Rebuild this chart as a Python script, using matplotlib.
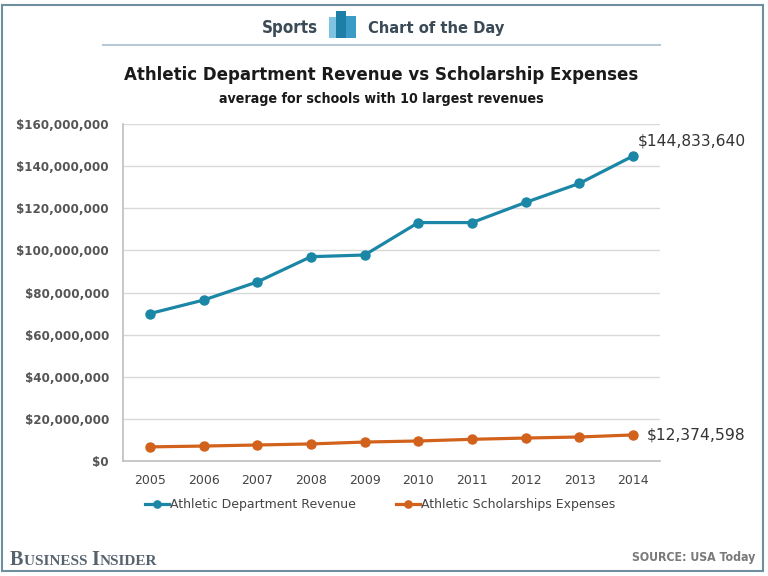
import matplotlib
matplotlib.use("Agg")
import matplotlib.pyplot as plt
from matplotlib.patches import Rectangle
from matplotlib.lines import Line2D
from matplotlib.ticker import FuncFormatter

years = ["2005", "2006", "2007", "2008", "2009", "2010", "2011", "2012", "2013", "2014"]
revenue = [70.0e6, 76.4e6, 85.0e6, 97.0e6, 97.8e6, 113.2e6, 113.2e6, 122.8e6, 131.8e6, 144833640]
scholarships = [6.7e6, 7.1e6, 7.6e6, 8.1e6, 9.0e6, 9.5e6, 10.3e6, 10.9e6, 11.4e6, 12374598]
series_names = ["Athletic Department Revenue", "Athletic Scholarships Expenses"]
yticks = [0, 20e6, 40e6, 60e6, 80e6, 100e6, 120e6, 140e6, 160e6]

c_rev = "#1b86a6"
c_sch = "#d2611c"
grid_c = "#d9d9d9"

fig = plt.figure(figsize=(7.68, 5.76), dpi=100)
W, H = 768, 576

def fx(x):
    return x / W

def fy(y):
    return 1 - y / H

ax = fig.add_axes([fx(123), fy(461), fx(660) - fx(123), fy(124) - fy(461)])
x = list(range(len(years)))
ax.plot(x, revenue, color=c_rev, lw=2.3, marker="o", ms=6.5, label=series_names[0])
ax.plot(x, scholarships, color=c_sch, lw=2.3, marker="o", ms=6.5, label=series_names[1])

ax.set_xlim(-0.5, len(years) - 0.5)
ax.set_ylim(0, 160e6)
ax.set_yticks(yticks)
ax.yaxis.set_major_formatter(FuncFormatter(lambda v, p: "${:,.0f}".format(v)))
ax.set_xticks(x)
ax.set_xticklabels(years)
ax.grid(axis="y", color=grid_c, lw=1)
ax.set_axisbelow(True)
for s in ["top", "right"]:
    ax.spines[s].set_visible(False)
for s in ["left", "bottom"]:
    ax.spines[s].set_color("#bfbfbf")
    ax.spines[s].set_linewidth(1.2)
ax.tick_params(axis="both", length=0)
ax.tick_params(axis="y", pad=10)
ax.tick_params(axis="x", pad=9)
for lab in ax.get_yticklabels():
    lab.set_fontsize(8.6)
    lab.set_fontweight("bold")
    lab.set_color("#555555")
for lab in ax.get_xticklabels():
    lab.set_fontsize(9)
    lab.set_color("#444444")

ax.annotate("${:,.0f}".format(revenue[-1]), xy=(x[-1], revenue[-1]), xytext=(3, 5),
            textcoords="offset points", fontsize=11.2, color="#333333", ha="left", va="bottom")
ax.annotate("${:,.0f}".format(scholarships[-1]), xy=(x[-1], scholarships[-1]), xytext=(10, 0),
            textcoords="offset points", fontsize=11.2, color="#333333", ha="left", va="center")

leg = ax.legend(loc="center", bbox_to_anchor=(0.479, -0.13), ncol=2, frameon=False,
                fontsize=9, handlelength=1.9, handletextpad=0.1, columnspacing=3.2,
                markerscale=0.8)
for t in leg.get_texts():
    t.set_color("#444444")

# Titles
fig.text(fx(381), fy(75), "Athletic Department Revenue vs Scholarship Expenses",
         ha="center", va="center", fontsize=13.3, fontweight="bold", color="#1a1a1a",
         fontstretch="condensed", family="DejaVu Sans")
fig.text(fx(381), fy(99), "average for schools with 10 largest revenues",
         ha="center", va="center", fontsize=10.2, fontweight="bold", color="#1a1a1a",
         fontstretch="condensed", family="DejaVu Sans")

# Header
fig.text(fx(318), fy(28), "Sports", ha="right", va="center", fontsize=12.2,
         fontweight="bold", color="#3b4a57", fontstretch="condensed")
fig.text(fx(368), fy(28), "Chart of the Day", ha="left", va="center", fontsize=11.8,
         fontweight="bold", color="#3b4a57", fontstretch="condensed")
fig.add_artist(Rectangle((fx(329), fy(38)), fx(12), fy(17) - fy(38), transform=fig.transFigure,
                         color="#7fc3e3", lw=0))
fig.add_artist(Rectangle((fx(336), fy(38)), fx(10), fy(11) - fy(38), transform=fig.transFigure,
                         color="#1f7ea6", lw=0))
fig.add_artist(Rectangle((fx(346), fy(38)), fx(10), fy(16) - fy(38), transform=fig.transFigure,
                         color="#3a9bc6", lw=0))
fig.add_artist(Line2D([fx(103), fx(660)], [fy(45), fy(45)], transform=fig.transFigure,
                      color="#b9c9d3", lw=1.5))

# Border
fig.add_artist(Rectangle((fx(2), fy(571)), fx(761), fy(5) - fy(571), transform=fig.transFigure,
                         fill=False, ec="#6f8ea0", lw=1.5))

# Footer: small caps "Business Insider"
renderer = fig.canvas.get_renderer()
pieces = [("B", 14.5), ("USINESS ", 11), ("I", 14.5), ("NSIDER", 11)]
xpos = 10
for txt, size in pieces:
    t = fig.text(fx(xpos), fy(565), txt, ha="left", va="baseline", fontsize=size,
                 family="Liberation Serif", color="#56626e", fontweight="bold")
    bb = t.get_window_extent(renderer=renderer)
    xpos += bb.width + 0.3

fig.text(fx(755), fy(557), "SOURCE: USA Today", ha="right", va="center", fontsize=8.8,
         fontweight="bold", color="#7a7a7a", fontstretch="condensed")

fig.savefig("out.png", dpi=100)
